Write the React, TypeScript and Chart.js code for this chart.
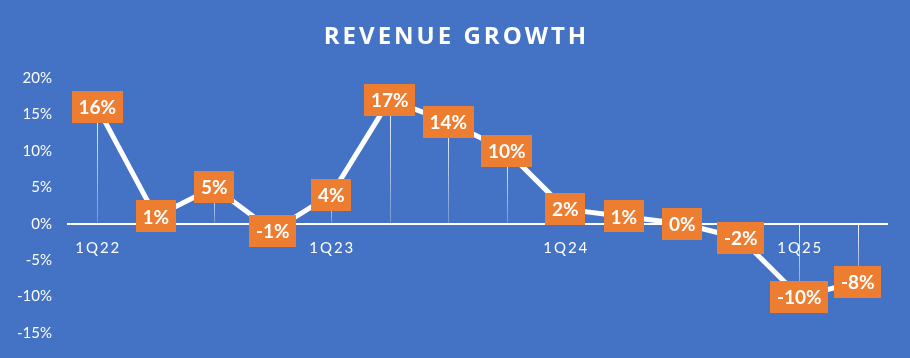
import React, { useEffect, useRef } from "react";
import { Chart, registerables } from "chart.js";

Chart.register(...registerables);

const categories = ["1Q22", "2Q22", "3Q22", "4Q22", "1Q23", "2Q23", "3Q23", "4Q23", "1Q24", "2Q24", "3Q24", "4Q24", "1Q25", "2Q25"];
const growth = [16, 1, 5, -1, 4, 17, 14, 10, 2, 1, 0, -2, -10, -8];
const shownXLabels = ["1Q22", "1Q23", "1Q24", "1Q25"];
const yMin = -15;
const yMax = 20;
const yStep = 5;
const title = "REVENUE GROWTH";

const BG = "#4472C4";
const ORANGE = "#ED7D31";
const FONT = "Lato, 'Open Sans', sans-serif";
const TITLE_FONT = "'Open Sans', Lato, sans-serif";

const decorPlugin = {
  id: "decor",
  beforeDraw(chart: any) {
    const { ctx, width } = chart;
    ctx.save();
    ctx.fillStyle = BG;
    ctx.fillRect(0, 0, width, chart.height);
    ctx.fillStyle = "#ffffff";
    ctx.font = `bold 24px ${TITLE_FONT}`;
    (ctx as any).letterSpacing = "3px";
    ctx.textAlign = "center";
    ctx.textBaseline = "alphabetic";
    ctx.fillText(title, width / 2 + 1.5, 44);
    ctx.restore();
  },
  beforeDatasetsDraw(chart: any) {
    const { ctx } = chart;
    const meta = chart.getDatasetMeta(0);
    const y0 = chart.scales.y.getPixelForValue(0);
    ctx.save();
    meta.data.forEach((pt: any) => {
      const top = Math.min(pt.y, y0);
      const bot = Math.max(pt.y, y0);
      if (bot - top < 1) return;
      const g = ctx.createLinearGradient(0, top, 0, bot);
      g.addColorStop(0, "rgba(255,255,255,0.95)");
      g.addColorStop(1, "rgba(255,255,255,0.25)");
      ctx.strokeStyle = g;
      ctx.lineWidth = 1;
      ctx.beginPath();
      ctx.moveTo(Math.round(pt.x) + 0.5, top);
      ctx.lineTo(Math.round(pt.x) + 0.5, bot);
      ctx.stroke();
    });
    ctx.restore();
  },
  afterDatasetsDraw(chart: any) {
    const { ctx } = chart;
    const meta = chart.getDatasetMeta(0);
    const data = chart.data.datasets[0].data as number[];
    ctx.save();
    ctx.font = `bold 19px ${FONT}`;
    ctx.textAlign = "center";
    ctx.textBaseline = "middle";
    meta.data.forEach((pt: any, i: number) => {
      const txt = `${data[i]}%`;
      const w = ctx.measureText(txt).width + 13;
      const h = 32;
      ctx.fillStyle = ORANGE;
      ctx.fillRect(Math.round(pt.x - w / 2), Math.round(pt.y - h / 2), Math.round(w), h);
      ctx.fillStyle = "#ffffff";
      ctx.fillText(txt, pt.x, pt.y + 1);
    });
    const xs = chart.scales.x;
    const y0 = chart.scales.y.getPixelForValue(0);
    ctx.font = `15px ${FONT}`;
    (ctx as any).letterSpacing = "2px";
    ctx.fillStyle = "#ffffff";
    categories.forEach((c, i) => {
      if (!shownXLabels.includes(c)) return;
      ctx.fillText(c, xs.getPixelForValue(i) + 1, y0 + 24);
    });
    ctx.restore();
  },
};

export default function App() {
  const ref = useRef<HTMLCanvasElement>(null);
  useEffect(() => {
    document.body.style.margin = "0";
    const chart = new Chart(ref.current!, {
      type: "line",
      data: {
        labels: categories,
        datasets: [
          {
            data: growth,
            borderColor: "#ffffff",
            borderWidth: 5,
            pointRadius: 0,
            tension: 0,
            borderJoinStyle: "round",
            borderCapStyle: "round",
          },
        ],
      },
      options: {
        animation: false,
        responsive: false,
        events: [],
        layout: { padding: { left: 8, right: 23, top: 78, bottom: 24 } },
        plugins: { legend: { display: false }, tooltip: { enabled: false }, title: { display: false } },
        scales: {
          x: {
            type: "category",
            offset: true,
            position: { y: 0 },
            grid: { display: false, drawTicks: false },
            border: { display: true, color: "#ffffff", width: 2 },
            ticks: { display: false },
          },
          y: {
            min: yMin,
            max: yMax,
            grid: { display: false, drawTicks: false },
            border: { display: false },
            afterFit: (s: any) => {
              s.width = 60;
            },
            ticks: {
              stepSize: yStep,
              color: "#ffffff",
              padding: 16,
              font: { family: FONT, size: 15 },
              callback: (v: any) => `${v}%`,
            },
          },
        },
      },
      plugins: [decorPlugin],
    });
    return () => chart.destroy();
  }, []);
  return (
    <div style={{ width: 910, height: 358 }}>
      <canvas ref={ref} width={910} height={358} />
    </div>
  );
}
